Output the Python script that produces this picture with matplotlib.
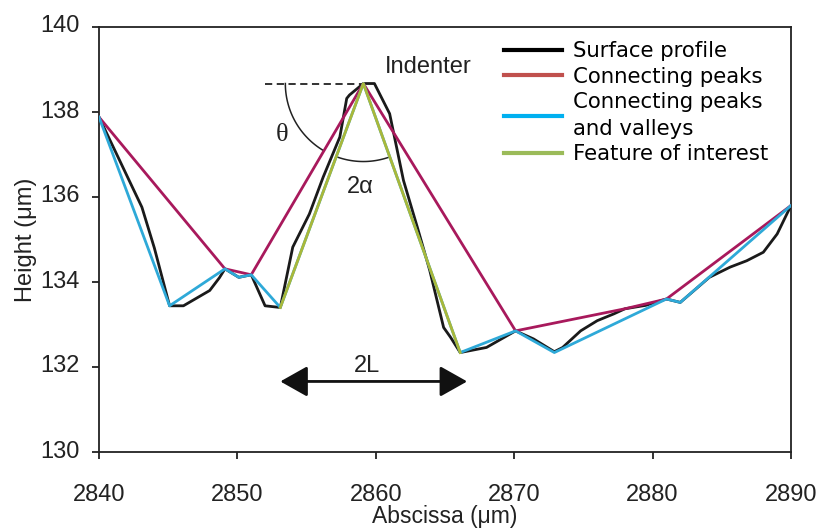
import numpy as np
import matplotlib.pyplot as plt
from matplotlib.lines import Line2D
from matplotlib.transforms import ScaledTranslation

# surface profile
profile_x = [2840.0, 2843.1, 2844.0, 2845.1, 2846.1, 2848.0, 2848.7, 2849.1, 2850.1, 2851.0,
             2852.0, 2853.1, 2854.0, 2855.2, 2856.2, 2857.4, 2857.9, 2858.1, 2859.1, 2859.9,
             2861.0, 2862.0, 2863.0, 2863.9, 2864.9, 2865.4, 2866.1, 2868.0, 2870.1, 2871.4,
             2872.9, 2873.5, 2874.8, 2876.0, 2877.2, 2878.0, 2879.5, 2881.0, 2882.0, 2884.1,
             2885.6, 2886.8, 2888.0, 2889.0, 2890.0]
profile_y = [137.88, 135.76, 134.8, 133.44, 133.44, 133.8, 134.1, 134.31, 134.11, 134.17,
             133.44, 133.4, 134.82, 135.6, 136.47, 137.41, 138.32, 138.4, 138.67, 138.67,
             137.96, 136.39, 135.29, 134.27, 132.93, 132.7, 132.34, 132.46, 132.85, 132.66,
             132.36, 132.46, 132.85, 133.09, 133.25, 133.37, 133.45, 133.6, 133.52, 134.11,
             134.35, 134.5, 134.7, 135.13, 135.8]

peaks_x = [2840.0, 2849.1, 2851.0, 2859.1, 2870.1, 2878.0, 2881.0, 2890.0]
peaks_y = [137.88, 134.31, 134.17, 138.67, 132.85, 133.37, 133.6, 135.8]

pv_x = [2840.0, 2845.1, 2849.1, 2850.1, 2851.0, 2853.1, 2859.1, 2866.1, 2870.1, 2872.9,
        2881.0, 2882.0, 2890.0]
pv_y = [137.88, 133.44, 134.31, 134.11, 134.17, 133.4, 138.67, 132.34, 132.85, 132.34,
        133.6, 133.52, 135.8]

feature_x = [2853.1, 2859.1, 2866.1]
feature_y = [133.4, 138.67, 132.34]

labels = ["Surface profile", "Connecting peaks", "Connecting peaks\nand valleys",
          "Feature of interest"]

plt.rcParams['font.family'] = ['Liberation Sans', 'DejaVu Sans']

fig = plt.figure(figsize=(8.23, 5.29), dpi=100)
ax = fig.add_axes([99 / 823, 1 - 452 / 529, 692 / 823, 425 / 529])

ax.plot(profile_x, profile_y, color='#1a1a1a', lw=2.0, zorder=3)
ax.plot(peaks_x, peaks_y, color='#a8195c', lw=2.0, zorder=4)
ax.plot(pv_x, pv_y, color='#2ea9d8', lw=2.0, zorder=5)
ax.plot(feature_x, feature_y, color='#a9b83a', lw=2.0, zorder=6)

ax.set_xlim(2840, 2890)
ax.set_ylim(130, 140)
ax.set_xticks(np.arange(2840, 2891, 10))
ax.set_yticks(np.arange(130, 141, 2))
ax.tick_params(direction='out', length=5, width=1.3, labelsize=17, colors='#222222')
ax.tick_params(axis='x', pad=18)
ax.tick_params(axis='y', pad=9)
for lab in ax.get_yticklabels():
    lab.set_transform(lab.get_transform() + ScaledTranslation(0, 3 / 100, fig.dpi_scale_trans))
for s in ax.spines.values():
    s.set_linewidth(1.3)
    s.set_color('#222222')
ax.set_xlabel("Abscissa (μm)", fontsize=16.5, labelpad=-1, color='#222222')
ax.set_ylabel("Height (μm)", fontsize=17, labelpad=2, color='#222222')

# indenter sketch
tip_x, tip_y = feature_x[1], feature_y[1]
ax.plot([2852.0, tip_x], [tip_y, tip_y], color='#222222', lw=1.3, ls=(0, (4, 2.5)), zorder=2)
c = ax.transData.transform((tip_x, tip_y))
r = 78
for a0, a1 in [(180, 239), (249.5, 290)]:
    t = np.radians(np.linspace(a0, a1, 60))
    pts = np.column_stack([c[0] + r * np.cos(t), c[1] + r * np.sin(t)])
    d = ax.transData.inverted().transform(pts)
    ax.plot(d[:, 0], d[:, 1], color='#222222', lw=1.1, zorder=2)

ax.text(2863.8, 139.06, "Indenter", fontsize=17, ha='center', va='center', color='#222222')
ax.text(2853.2, 137.45, "θ", fontsize=19, ha='center', va='center', family='Liberation Serif',
        color='#222222')
ax.text(2858.9, 136.23, "2α", fontsize=17, ha='center', va='center', color='#222222')
ax.text(2859.35, 132.03, "2L", fontsize=17, ha='center', va='center', color='#222222')
ax.annotate('', xy=(2866.6, 131.66), xytext=(2853.1, 131.66),
            arrowprops=dict(arrowstyle='<|-|>,head_length=0.8,head_width=0.45', mutation_scale=21,
                            lw=2, color='#111111', shrinkA=0, shrinkB=0))

handles = [Line2D([], [], color='black', lw=3),
           Line2D([], [], color='#c0504d', lw=3),
           Line2D([], [], color='#00b0f0', lw=3),
           Line2D([], [], color='#9bbb59', lw=3)]
leg = fig.legend(handles, labels, loc='upper left', bbox_to_anchor=(504 / 823, 1 - 41 / 529),
                 frameon=False, prop={'family': 'DejaVu Sans', 'size': 15.3}, handlelength=2.75,
                 handletextpad=0.5, labelspacing=0.27, borderpad=0, borderaxespad=0)
for t in leg.get_texts():
    t.set_linespacing(1.38)

fig.savefig("out.png", dpi=100)
